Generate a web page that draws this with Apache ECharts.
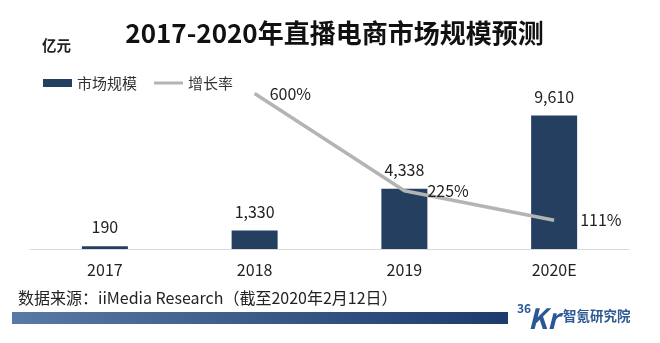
<!DOCTYPE html>
<html><head><meta charset="utf-8">
<script src="https://cdn.jsdelivr.net/npm/echarts@6/dist/echarts.min.js"></script>
<style>html,body{margin:0;padding:0;background:#fff}#c{width:660px;height:343px}</style>
</head><body><div id="c"></div>
<script>
const categories = ['2017', '2018', '2019', '2020E'];
const marketSize = [190, 1330, 4338, 9610];
const growthRate = [null, 600, 225, 111];
const seriesNames = ['市场规模', '增长率'];
const titleText = '2017-2020年直播电商市场规模预测';
const unitText = '亿元';
const sourceText = '数据来源：iiMedia Research（截至2020年2月12日）';
const brandText = '智氪研究院';

const growthLabelDistance = [0, 15, 23, 26];
const FONT = '"Noto Sans CJK SC", "Noto Sans", sans-serif';
const LINE_ICON = 'path://M0,0h0.01v0.01h-0.01z M0,2.6h29v3h-29z M28.99,7.99h0.01v0.01h-0.01z';

const chart = echarts.init(document.getElementById('c'), null, {renderer: 'canvas'});
chart.setOption({
  animation: false,
  backgroundColor: '#ffffff',
  textStyle: {fontFamily: FONT},
  grid: {left: 30, right: 31, top: 93.5, bottom: 94, containLabel: false},
  legend: {
    left: 43, top: 75.5, padding: 0,
    itemWidth: 29, itemHeight: 8, itemGap: 17,
    textStyle: {fontSize: 15, color: '#333', fontFamily: FONT},
    data: [{name: seriesNames[0], icon: 'rect'}, {name: seriesNames[1], icon: LINE_ICON}]
  },
  xAxis: {
    type: 'category', data: categories,
    axisLine: {lineStyle: {color: '#d9d9d9', width: 1}},
    axisTick: {show: false},
    axisLabel: {fontSize: 16, color: '#222', margin: 13, fontFamily: FONT}
  },
  yAxis: [
    {type: 'value', min: 0, max: 11200, show: false, splitLine: {show: false}},
    {type: 'value', min: 0, max: 600, show: false, splitLine: {show: false}}
  ],
  series: [
    {
      name: seriesNames[0], type: 'bar', yAxisIndex: 0,
      data: marketSize, barWidth: 46,
      itemStyle: {color: '#243f60'},
      label: {
        show: true, position: 'top', distance: 11,
        fontSize: 16, color: '#222', fontFamily: FONT,
        formatter: p => p.value.toLocaleString('en-US')
      }
    },
    {
      name: seriesNames[1], type: 'line', yAxisIndex: 1,
      data: growthRate.map((v, i) => v == null ? null : {value: v, label: {distance: growthLabelDistance[i]}}),
      symbol: 'circle', symbolSize: 0, showSymbol: true,
      lineStyle: {color: '#b4b4b4', width: 3.5},
      itemStyle: {color: '#b4b4b4'},
      label: {
        show: true, position: 'right',
        fontSize: 16, color: '#222', fontFamily: FONT,
        formatter: p => p.value + '%'
      },
      z: 5
    }
  ],
  graphic: [
    {type: 'text', x: 334.5, y: 33, style: {text: titleText, font: 'bold 26px ' + FONT, fill: '#111', textAlign: 'center', textVerticalAlign: 'middle'}},
    {type: 'text', x: 42, y: 45, style: {text: unitText, font: 'bold 14.5px ' + FONT, fill: '#222', textAlign: 'left', textVerticalAlign: 'middle'}},
    {type: 'text', x: 18, y: 298, style: {text: sourceText, font: '16px ' + FONT, fill: '#222', textAlign: 'left', textVerticalAlign: 'middle'}},
    {type: 'rect', shape: {x: 12, y: 312, width: 496, height: 12},
      style: {fill: new echarts.graphic.LinearGradient(0, 0, 1, 0, [{offset: 0, color: '#587aa6'}, {offset: 1, color: '#1d3b6b'}])}},
    {type: 'text', x: 517, y: 308, style: {text: '36', font: 'bold 12px ' + FONT, fill: '#2b5797', textAlign: 'left', textVerticalAlign: 'middle'}},
    {type: 'text', x: 528, y: 318, style: {text: 'Kr', font: 'italic bold 28px ' + FONT, fill: '#2b5797', textAlign: 'left', textVerticalAlign: 'middle'}},
    {type: 'text', x: 563, y: 316, style: {text: brandText, font: 'bold 13.5px ' + FONT, fill: '#2e5a93', textAlign: 'left', textVerticalAlign: 'middle'}}
  ]
});
</script>
</body></html>
